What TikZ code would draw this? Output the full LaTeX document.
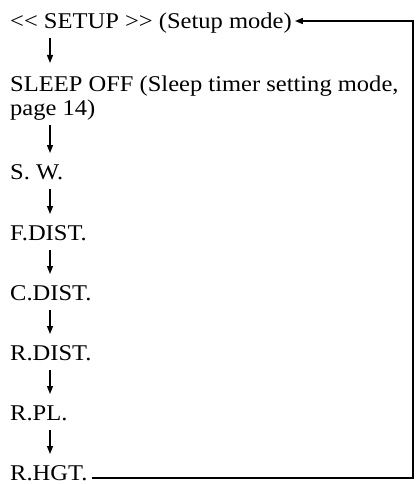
\documentclass[tikz,border=0pt]{standalone}
\usepackage{fontspec}
\setmainfont[FakeStretch=1.09]{Liberation Serif}
\usetikzlibrary{arrows.meta,calc}
\begin{document}
\begin{tikzpicture}[x=1pt,y=1pt,
  item/.style={anchor=base west,inner sep=0pt,font=\fontsize{22.5}{24}\selectfont},
  arr/.style={line width=1.3pt,-{Stealth[length=8pt,width=6pt,inset=0pt]}},
  loopline/.style={line width=1.5pt}]
\useasboundingbox (0,0) rectangle (417,-484);
\node[item] (setup) at (10,-29) {{<}{<} SETUP {>}{>} (Setup mode)};
\node[item,align=left] (sleep) at (10,-115) {SLEEP OFF (Sleep timer setting mode,\\page 14)};
\node[item] (sw) at (10,-179) {S. W.};
\node[item] (fdist) at (10,-240) {F.DIST.};
\node[item] (cdist) at (10,-300) {C.DIST.};
\node[item] (rdist) at (10,-360) {R.DIST.};
\node[item] (rpl) at (10,-420) {R.PL.};
\node[item] (rhgt) at (10,-480) {R.HGT.};
\coordinate (ax) at (50,0);
\coordinate (rx) at (413,0);
\draw[arr] ($(setup.base -| ax)+(0,-9)$) -- ($(sleep.base -| ax)+(0,52)$);
\draw[arr] ($(sleep.base -| ax)+(0,-10)$) -- ($(sw.base -| ax)+(0,26)$);
\draw[arr] ($(sw.base -| ax)+(0,-10)$) -- ($(fdist.base -| ax)+(0,26)$);
\draw[arr] ($(fdist.base -| ax)+(0,-10)$) -- ($(cdist.base -| ax)+(0,26)$);
\draw[arr] ($(cdist.base -| ax)+(0,-10)$) -- ($(rdist.base -| ax)+(0,26)$);
\draw[arr] ($(rdist.base -| ax)+(0,-10)$) -- ($(rpl.base -| ax)+(0,26)$);
\draw[arr] ($(rpl.base -| ax)+(0,-10)$) -- ($(rhgt.base -| ax)+(0,26)$);
\coordinate (lb) at ($(rhgt.base east)+(4,2)$);
\coordinate (lt) at ($(setup.base east)+(3,8)$);
\draw[loopline] (lb) -- (lb -| rx) -- (lt -| rx) -- ($(lt)+(12,0)$);
\draw[arr,line width=1.5pt] ($(lt)+(14,0)$) -- (lt);
\end{tikzpicture}
\end{document}
